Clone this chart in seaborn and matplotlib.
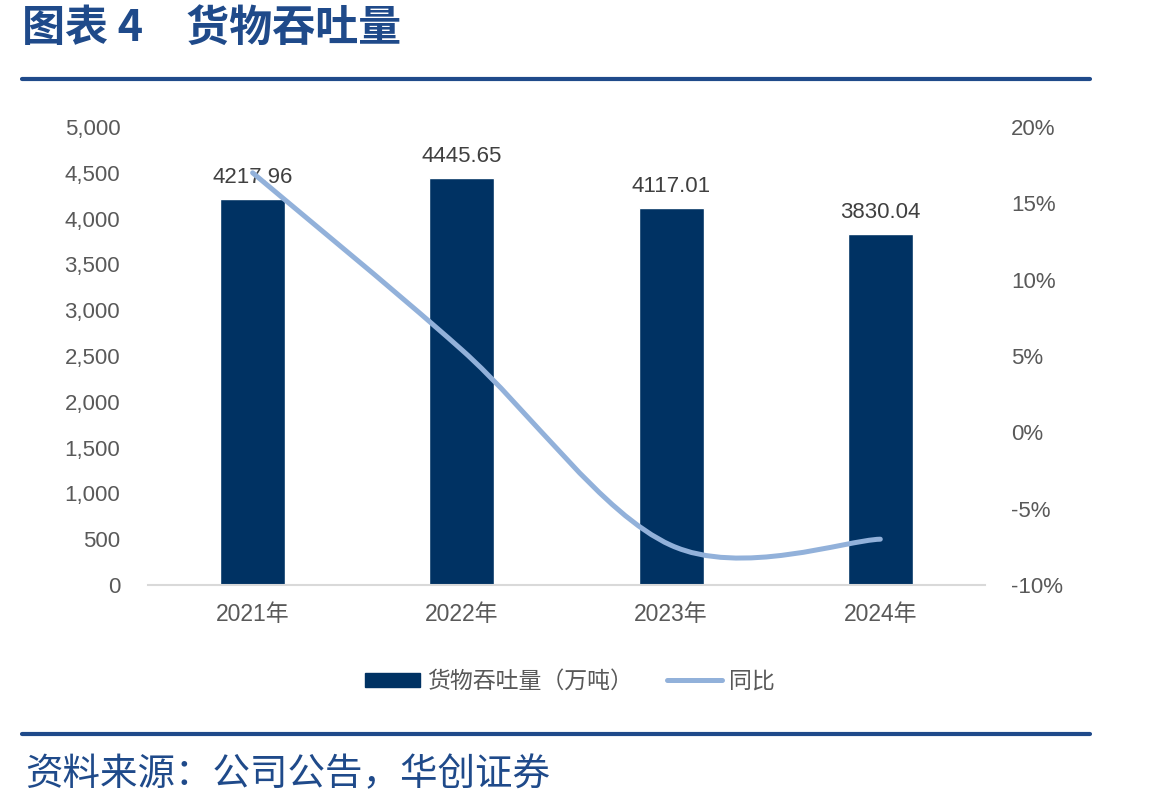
import numpy as np
import pandas as pd
import matplotlib
matplotlib.use("Agg")
import matplotlib.pyplot as plt
import seaborn as sns
from matplotlib.path import Path
from matplotlib.patches import PathPatch, Patch
from matplotlib.lines import Line2D
from matplotlib.ticker import FuncFormatter, MultipleLocator

years = ['2021年', '2022年', '2023年', '2024年']
throughput = [4217.96, 4445.65, 4117.01, 3830.04]
yoy = [0.170, 0.054, -0.074, -0.070]

bar_color = '#003263'
line_color = '#92B1DA'
text_gray = '#595959'
navy = '#1F4A8A'

sns.set_theme(style='white')
plt.rcParams['font.family'] = ['Liberation Sans', 'Noto Sans CJK SC', 'DejaVu Sans']

df = pd.DataFrame({'year': years, 'value': throughput, 'yoy': yoy})

fig = plt.figure(figsize=(11.49, 8.10), dpi=100)
ax = fig.add_axes([0.1288, 0.2778, 0.7284, 0.5654])

sns.barplot(data=df, x='year', y='value', color=bar_color, width=0.31,
            saturation=1, ax=ax)
ax.set_xlim(-0.5, 3.5)
ax.set_ylim(0, 5000)
ax.yaxis.set_major_locator(MultipleLocator(500))
ax.yaxis.set_major_formatter(FuncFormatter(lambda v, p: f'{v:,.0f}'))
ax.set_xlabel('')
ax.set_ylabel('')
for s in ['top', 'right', 'left']:
    ax.spines[s].set_visible(False)
ax.spines['bottom'].set_color('#D9D9D9')
ax.spines['bottom'].set_linewidth(1.5)
ax.tick_params(axis='y', length=0, pad=20, labelsize=16, labelcolor=text_gray)
ax.tick_params(axis='x', length=0, pad=13, labelsize=16.5, labelcolor=text_gray)

for i, v in enumerate(throughput):
    ax.annotate(f'{v:.2f}', (i, v), xytext=(0, 8), textcoords='offset points',
                ha='center', va='bottom', fontsize=16, color='#404040')

# secondary axis: smoothed yoy line
ax2 = ax.twinx()
ax2.set_ylim(-0.10, 0.20)
ax2.yaxis.set_major_locator(MultipleLocator(0.05))
ax2.yaxis.set_major_formatter(FuncFormatter(lambda v, p: f'{v*100:.0f}%'))
for s in ['top', 'right', 'left', 'bottom']:
    ax2.spines[s].set_visible(False)
ax2.tick_params(axis='y', length=0, pad=19, labelsize=16, labelcolor=text_gray)
ax2.grid(False)
ax.grid(False)

pts = np.column_stack([np.arange(len(yoy)), yoy])
ext = np.vstack([pts[0], pts, pts[-1]])
verts = [tuple(pts[0])]
codes = [Path.MOVETO]
for k in range(1, len(ext) - 2):
    p0, p1, p2, p3 = ext[k - 1], ext[k], ext[k + 1], ext[k + 2]
    c1 = p1 + (p2 - p0) / 6
    c2 = p2 - (p3 - p1) / 6
    verts += [tuple(c1), tuple(c2), tuple(p2)]
    codes += [Path.CURVE4] * 3
ax2.add_patch(PathPatch(Path(verts, codes), facecolor='none', edgecolor=line_color,
                        lw=3.6, capstyle='round', zorder=5))

handles = [Patch(facecolor=bar_color, edgecolor=bar_color),
           Line2D([0], [0], color=line_color, lw=3.6, solid_capstyle='round')]
fig.legend(handles, ['货物吞吐量（万吨）', '同比'], loc='center',
           bbox_to_anchor=(0.496, 0.159), ncol=2, frameon=False,
           fontsize=16.5, labelcolor=text_gray, handlelength=2.4,
           handleheight=0.55, handletextpad=0.3, columnspacing=1.5)

# header / footer
fig.text(0.019, 0.966, '图表 4　货物吞吐量', fontsize=31, fontweight='bold',
         color=navy, ha='left', va='center',
         family=['Noto Sans CJK SC', 'DejaVu Sans'])
fig.add_artist(Line2D([0.019, 0.949], [0.902, 0.902], color=navy, lw=3))
fig.add_artist(Line2D([0.019, 0.949], [0.094, 0.094], color=navy, lw=3))
fig.text(0.022, 0.043, '资料来源：公司公告，华创证券', fontsize=27, style='italic',
         color=navy, ha='left', va='center',
         family=['Noto Sans CJK SC', 'DejaVu Sans'])

fig.savefig('out.png', dpi=100)
